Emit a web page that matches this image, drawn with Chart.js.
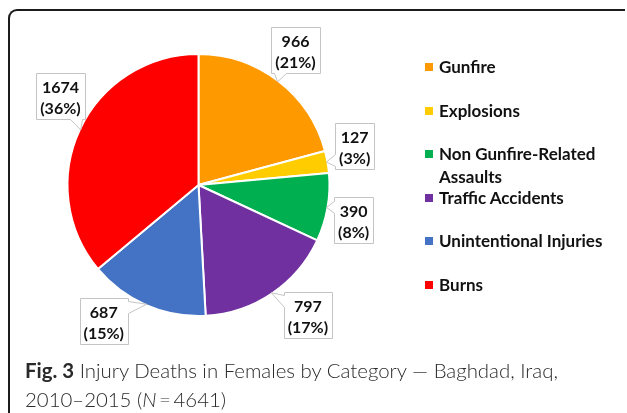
<!DOCTYPE html>
<html>
<head>
<meta charset="utf-8">
<script src="https://cdn.jsdelivr.net/npm/chart.js@4.4.1/dist/chart.umd.min.js"></script>
<style>
  html, body { margin: 0; padding: 0; background: #fff; }
  body { width: 627px; height: 413px; position: relative; overflow: hidden; font-family: Lato, "Noto Sans", sans-serif; }
  #moldura { position: absolute; left: 8px; top: 9px; width: 615px; height: 420px;
    border-top: 2px solid #1c1c1c; border-left: 2px solid #1c1c1c; border-top-left-radius: 9px; }
  #area { position: absolute; left: 0; top: 0; width: 627px; height: 413px; }
  #legenda { position: absolute; left: 425px; top: 56px; margin: 0; padding: 0; list-style: none; }
  #legenda li { position: relative; height: 43.6px; width: 196px; }
  #legenda .cor { position: absolute; left: 0; top: 7px; width: 8px; height: 8px; }
  #legenda .txt { position: absolute; left: 14px; top: 0; width: 182px; font-weight: 700; font-size: 17px;
    line-height: 22.5px; color: #111; }
  #legenda_fig { position: absolute; left: 25px; top: 356px; font-size: 20.4px; line-height: 29px;
    color: #2a2a2a; white-space: nowrap; font-weight: 300; }
  #legenda_fig b { font-weight: 700; }
</style>
</head>
<body>
<div id="moldura"></div>
<div id="area"><canvas id="graficoPizza"></canvas></div>
<ul id="legenda"></ul>
<div id="legenda_fig"><b>Fig. 3</b> Injury Deaths in Females by Category — Baghdad, Iraq,<br>2010–2015 (<i>N</i>&thinsp;=&thinsp;4641)</div>
<script>
const categorias = ['Gunfire', 'Explosions', 'Non Gunfire-Related Assaults', 'Traffic Accidents', 'Unintentional Injuries', 'Burns'];
const mortes = [966, 127, 390, 797, 687, 1674];
const cores = ['#FF9900', '#FFCC00', '#00B050', '#7030A0', '#4472C4', '#FF0000'];

// legenda em html, montada a partir das categorias
const lista = document.getElementById('legenda');
categorias.forEach((nome, i) => {
  const li = document.createElement('li');
  const quad = document.createElement('span');
  quad.className = 'cor';
  quad.style.background = cores[i];
  const txt = document.createElement('span');
  txt.className = 'txt';
  txt.textContent = nome;
  li.appendChild(quad);
  li.appendChild(txt);
  lista.appendChild(li);
});

// desenha a caixa com a "setinha" apontando pra fatia
function caixaCallout(ctx, x0, y0, x1, y1, tx, ty) {
  const foraX = tx < x0 ? x0 - tx : (tx > x1 ? tx - x1 : 0);
  const foraY = ty < y0 ? y0 - ty : (ty > y1 ? ty - y1 : 0);
  let lado;
  if (foraY >= foraX) lado = ty > y1 ? 'baixo' : 'cima';
  else lado = tx < x0 ? 'esq' : 'dir';
  const base = 12;
  let a, b;
  if (lado === 'cima' || lado === 'baixo') {
    const c = Math.min(Math.max(tx, x0 + 3 + base / 2), x1 - 3 - base / 2);
    a = c - base / 2; b = c + base / 2;
  } else {
    const c = Math.min(Math.max(ty, y0 + 3 + base / 2), y1 - 3 - base / 2);
    a = c - base / 2; b = c + base / 2;
  }
  ctx.beginPath();
  ctx.moveTo(x0, y0);
  if (lado === 'cima') { ctx.lineTo(a, y0); ctx.lineTo(tx, ty); ctx.lineTo(b, y0); }
  ctx.lineTo(x1, y0);
  if (lado === 'dir') { ctx.lineTo(x1, a); ctx.lineTo(tx, ty); ctx.lineTo(x1, b); }
  ctx.lineTo(x1, y1);
  if (lado === 'baixo') { ctx.lineTo(b, y1); ctx.lineTo(tx, ty); ctx.lineTo(a, y1); }
  ctx.lineTo(x0, y1);
  if (lado === 'esq') { ctx.lineTo(x0, b); ctx.lineTo(tx, ty); ctx.lineTo(x0, a); }
  ctx.closePath();
  ctx.fillStyle = '#fff';
  ctx.fill();
  ctx.strokeStyle = '#c4c4c4';
  ctx.lineWidth = 1;
  ctx.stroke();
}

const rotulosCallout = {
  id: 'rotulosCallout',
  afterDatasetsDraw(chart, args, opts) {
    const ctx = chart.ctx;
    const meta = chart.getDatasetMeta(0);
    const dados = chart.data.datasets[0].data;
    const total = dados.reduce((s, v) => s + v, 0);
    ctx.save();
    ctx.font = opts.font;
    ctx.textAlign = 'center';
    ctx.textBaseline = 'middle';
    meta.data.forEach((arco, i) => {
      const p = arco.getProps(['x', 'y', 'startAngle', 'endAngle', 'outerRadius'], true);
      const meio = (p.startAngle + p.endAngle) / 2;
      const tx = p.x + Math.cos(meio) * (p.outerRadius - 1);
      const ty = p.y + Math.sin(meio) * (p.outerRadius - 1);
      const [desvio, dist] = opts.ajustes[i];
      const ang = meio + desvio * Math.PI / 180;
      const cx = p.x + Math.cos(ang) * dist;
      const cy = p.y + Math.sin(ang) * dist;
      const l1 = String(dados[i]);
      const l2 = '(' + Math.round(dados[i] / total * 100) + '%)';
      const w = Math.max(ctx.measureText(l1).width, ctx.measureText(l2).width) + 8;
      const h = 46;
      const x0 = Math.round(cx - w / 2) + 0.5, x1 = Math.round(cx + w / 2) + 0.5;
      const y0 = Math.round(cy - h / 2) + 0.5, y1 = Math.round(cy + h / 2) + 0.5;
      caixaCallout(ctx, x0, y0, x1, y1, tx, ty);
      ctx.fillStyle = '#111';
      ctx.fillText(l1, cx, y0 + 14);
      ctx.fillText(l2, cx, y0 + 35);
    });
    ctx.restore();
  }
};

const ctx = document.getElementById('graficoPizza').getContext('2d');
const grafico = new Chart(ctx, {
  type: 'pie',
  data: {
    labels: categorias,
    datasets: [{
      data: mortes,
      backgroundColor: cores,
      borderColor: '#ffffff',
      borderWidth: 2
    }]
  },
  options: {
    responsive: true,
    maintainAspectRatio: false,
    animation: false,
    layout: { padding: { left: 66, right: 296, top: 53, bottom: 96 } },
    plugins: {
      legend: { display: false },
      tooltip: { enabled: false },
      rotulosCallout: {
        font: '700 16px Lato',
        // [desvio do angulo em graus, distancia do centro]
        ajustes: [[-1.7, 166], [-3.9, 161], [2.8, 159], [-6, 170], [11.3, 166], [7.6, 164]]
      }
    }
  },
  plugins: [rotulosCallout]
});
</script>
</body>
</html>
